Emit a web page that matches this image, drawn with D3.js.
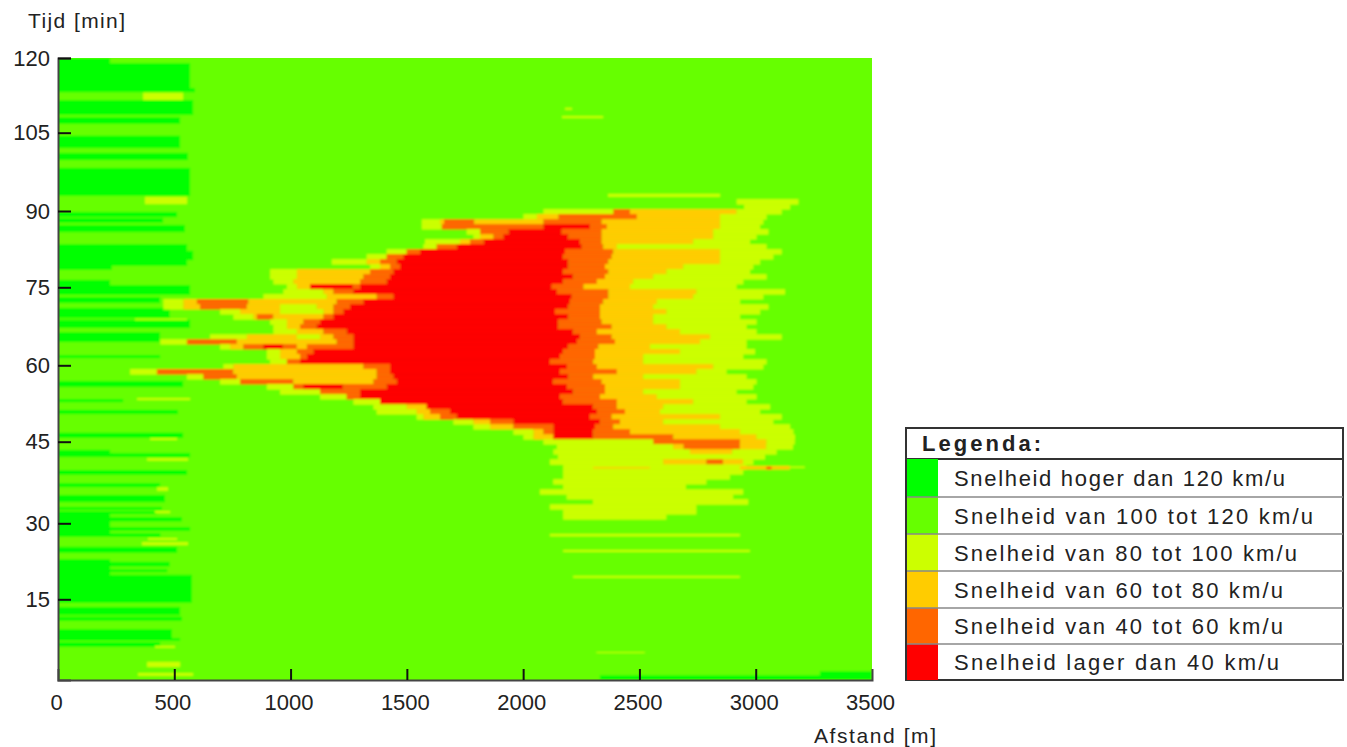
<!DOCTYPE html>
<html><head><meta charset="utf-8">
<script src="https://cdnjs.cloudflare.com/ajax/libs/d3/7.8.5/d3.min.js"></script>
<style>html,body{margin:0;padding:0;background:#fff}svg{display:block}
text{font-family:"Liberation Sans",Arial,sans-serif;fill:#222}</style></head><body>
<svg id="c" width="1347" height="747"></svg>
<script>
const speedColors=["#00ff00","#66ff00","#ccff00","#ffcc00","#ff6600","#ff0000"];
const legendLabels=["Snelheid hoger dan 120 km/u","Snelheid van 100 tot 120 km/u","Snelheid van 80 tot 100 km/u","Snelheid van 60 tot 80 km/u","Snelheid van 40 tot 60 km/u","Snelheid lager dan 40 km/u"];
const xTicks=[0,500,1000,1500,2000,2500,3000,3500];
const yTicks=[15,30,45,60,75,90,105,120];
// fastest class bands near the start of the road: [top min, bottom min, end m]
const fastBands=[[120,119,224],[119,114.2,568],[114.2,113.4,589],[111.9,109,581],[108.6,107.3,525],[105,102.6,525],[101.7,100.3,559],[98.8,93.4,568],[90.3,89.3,512],[89.1,88.2,452],[87.8,86.4,546],[84.1,79.9,555],[82.8,81,581],[79.9,79.1,232],[77.2,76.2,224],[76.2,74.3,568],[73.9,72.7,439],[71.8,69.8,480],[69.5,67.9,568],[67.1,65.2,439],[62.7,62.1,439],[57.7,56.5,538],[54.2,53.6,280],[52.1,51.3,516],[47.7,46.7,538],[44.4,43.8,224],[43.8,43,568],[40.5,39.6,555],[38,37.2,439],[35.7,34.3,460],[33.4,32.8,447],[32.6,32,426],[32,30.3,224],[31.4,30.6,533],[30.3,27.6,224],[29.5,28.8,568],[28.3,27.6,440],[25.7,24.5,512],[23.3,20.3,224],[22.8,21.9,480],[21.4,20.8,470],[20.3,14.9,576],[14.1,12.5,525],[12.2,11.4,533],[9.8,7.7,490],[8.1,7.6,525],[7.3,6.4,439],[0.9,0,3500],[1.7,0,3500]];
const fastBandStarts=fastBands.map(b=>b[2]===3500?(b[0]>1?3276:2330):0);
// time of each congestion row
const rowTimes=[92.3,91.3,90.4,89.4,88.4,87.5,86.5,85.5,84.6,83.6,82.65,81.7,80.7,79.75,78.8,77.8,76.9,75.9,74.9,74,73,72,71.1,70.1,69.1,68.2,67.2,66.2,65.3,64.3,63.4,62.4,61.4,60.5,59.5,58.5,57.6,56.6,55.6,54.7,53.7,52.7,51.8,50.8,49.8,48.9,47.9,46.9,46,45,44.05,43.1,42.1,41.1,40.2,39.2,38.3,37.3,36.3,35.4,34.4,33.4,32.5,31.5];
// per row: start m, class, start m, class, ..., end m (class 2..5 = index into speedColors)
const rowRuns=[
[2918,2,3184],[2950,2,3148],[2087,2,2388,4,2460,3,2918,2,3112],[2001,2,2059,3,2152,4,2489,3,2847,2,3047],
[1564,2,1643,3,1660,4,1790,3,2087,4,2338,3,2847,2,3033],[1564,2,1650,4,2087,5,2288,4,2360,3,2847,2,3019],
[1757,2,1815,4,1937,5,2166,4,2338,3,2818,2,3055],[1786,2,1815,3,1872,4,1915,5,2195,4,2338,3,2818,2,3004],
[1578,2,1729,3,1772,4,1830,5,2245,4,2338,3,2732,2,2976],[1571,2,1628,4,1714,5,2252,4,2345,3,2403,2,3047],
[1413,2,1499,4,1557,5,2180,4,2388,3,2847,2,3112],[1327,2,1413,4,1485,5,2173,4,2381,3,2847,2,3076],
[1177,2,1327,3,1385,4,1456,5,2195,4,2367,3,2847,2,3019],[1342,2,1385,3,1428,4,1471,5,2195,4,2352,3,2689,2,2990],
[912,2,1027,3,1342,4,1442,5,2173,4,2367,3,2617,2,2976],[912,2,1027,3,1313,4,1428,5,2216,4,2352,3,2560,2,3047],
[926,2,1012,3,1299,4,1413,5,2173,4,2317,3,2474,2,2947],[984,2,1027,3,1084,5,1270,4,1299,5,2123,4,2260,3,2460,2,2918],
[969,2,1141,3,1184,4,1270,5,2145,4,2367,3,2746,2,3126],[883,2,1155,3,1370,4,1442,5,2209,4,2367,3,2732,2,3033],
[453,2,539,3,597,4,819,3,1198,4,1313,5,2202,4,2345,3,2575,2,2933],[453,2,539,3,611,4,812,3,955,2,1112,3,1184,4,1256,5,2195,4,2331,3,2560,2,3055],
[697,2,783,3,955,2,1141,3,1184,4,1227,5,2137,4,2331,3,2617,2,3019],[754,2,840,3,855,4,926,3,1141,4,1184,5,2195,4,2331,3,2560,2,2933],
[912,2,984,3,1055,4,1127,5,2152,4,2338,3,2560,2,3004],[926,2,984,3,1041,4,1112,5,2152,4,2381,3,2617,2,2961],
[926,2,1027,3,1141,4,1241,5,2216,4,2317,3,2675,2,3004],[654,2,812,3,1027,2,1127,3,1184,4,1270,5,2245,4,2381,3,2804,2,3112],
[440,2,554,4,769,3,1198,4,1270,5,2231,4,2395,3,2761,2,2961],[697,2,740,3,797,4,883,5,969,4,1027,3,1070,4,1270,5,2195,4,2324,3,2546,2,2961],
[898,2,955,3,1027,4,1098,5,2173,4,2309,3,2675,2,2997],[898,2,955,3,1041,4,1070,5,2159,4,2309,3,2517,2,2947],
[912,2,984,4,1041,5,2116,4,2302,3,2517,2,3047],[711,2,754,3,1313,4,1428,5,2188,4,2317,3,2818,2,3033],
[310,2,425,4,754,3,1370,4,1428,5,2159,4,2403,3,2746,2,2875],[554,2,625,4,769,3,1370,4,1442,5,2195,4,2302,3,2517,2,2961],
[697,2,783,4,1012,3,1356,4,1456,5,2130,4,2338,3,2675,2,3004],[898,2,1012,4,1055,5,1227,4,1413,5,2188,4,2352,3,2675,2,2990],
[955,2,1127,4,1299,5,2216,4,2352,3,2517,2,2918],[1127,2,1241,4,1299,5,2159,4,2331,3,2575,2,3004],
[1270,2,1385,5,2173,4,2403,3,2732,2,2961],[1356,2,1499,3,1585,5,2302,4,2403,3,2603,2,3062],
[1370,2,1542,3,1600,4,1686,5,2317,4,2438,3,2589,2,3019],[1542,2,1571,3,1643,4,1714,5,2288,4,2381,3,2847,2,3112],
[1700,2,1786,3,1858,4,1958,5,2331,4,2417,3,2603,2,3076],[1786,2,1858,3,1958,4,2130,5,2309,4,2388,3,2847,2,3148],
[1958,2,2044,3,2087,4,2130,5,2302,4,2460,3,2933,2,3162],[2001,2,2044,3,2130,5,2302,4,2646,3,3004,2,3169],
[2087,2,2560,4,2933,3,3047,2,3168],[2145,2,2645,3,2690,4,2932,3,3046,2,3160],[2130,2,2717,3,2900,2,3090],[2150,2,3040],
[2115,2,2602,3,2788,4,2860,3,2946,2,2990],[2172,2,2960],[2172,2,2946],[2172,2,2889],[2129,2,2788],[2172,2,2700],
[2072,2,2946],[2187,2,2903],[2300,2,2968],[2115,2,2745],[2172,2,2745],[2172,2,2616]];
// thin streaks: [top min, bottom min, start m, end m, class]
const thinStreaks=[[113.3,111.9,366,538,2],[93.2,91.8,374,555,2],[42.8,42.3,383,559,2],[37.2,36.5,426,473,2],[32.6,32.2,417,482,2],[27.4,27,387,512,2],[26.6,26,361,559,2],[6.6,6.2,417,503,2],[3.5,2.5,383,525,2],[1.35,0.8,344,581,2],[54.4,54,340,568,2],[46.7,46.3,396,512,2],[69.7,69.4,331,555,2],[110.4,110,2180,2210,2],[108.8,108.4,2167,2344,2],[93.8,93.2,2365,2847,2],[28.2,27.7,2115,2932,2],[25.1,24.7,2172,2975,2],[20.1,19.7,2215,2932,2],[5.4,5.2,2315,2523,2],[41.3,40.6,2932,3147,3],[41.2,40.9,3147,3211,2],[41.2,40.6,3046,3068,4],[41.1,40.8,2301,2545,3]];

const svg=d3.select("#c");
const x=d3.scaleLinear().domain([0,3500]).range([58,872]);
const y=d3.scaleLinear().domain([0,120]).range([680,58]);
// the printed ticks sit slightly off an even spacing
const yAxisScale=d3.scaleLinear().domain([0,15,30,45,60,75,90,105,120]).range([680,599.3,523.3,441.7,365.3,287.3,211,132.7,58]);
const defs=svg.append("defs");
defs.append("filter").attr("id","soft").append("feGaussianBlur").attr("stdDeviation",0.8);
defs.append("clipPath").attr("id","plot").append("rect").attr("x",58).attr("y",58).attr("width",814).attr("height",622);
const outer=svg.append("g").attr("clip-path","url(#plot)");
const g=outer.append("g").attr("filter","url(#soft)");
g.append("rect").attr("x",50).attr("y",50).attr("width",830).attr("height",640).attr("fill",speedColors[1]);
g.selectAll("rect.f").data(fastBands).join("rect").attr("class","f")
 .attr("x",(d,i)=>fastBandStarts[i]?x(fastBandStarts[i]):40).attr("y",d=>y(d[0]))
 .attr("width",(d,i)=>x(d[2])-(fastBandStarts[i]?x(fastBandStarts[i]):40)).attr("height",d=>y(d[1])-y(d[0])).attr("fill",speedColors[0]);
const cells=[];
rowRuns.forEach((r,k)=>{
  const t=rowTimes[k];
  const top=k?(rowTimes[k-1]+t)/2:t+0.48;
  const bot=k<rowTimes.length-1?(t+rowTimes[k+1])/2:t-0.48;
  for(let i=0;i+2<r.length;i+=2)cells.push({top,bot,a:r[i],c:r[i+1],b:r[i+2]});
});
g.selectAll("rect.r").data(cells).join("rect").attr("class","r")
 .attr("x",d=>x(d.a)).attr("y",d=>y(d.top)).attr("width",d=>x(d.b)-x(d.a)).attr("height",d=>y(d.bot)-y(d.top)+0.5).attr("fill",d=>speedColors[d.c]);
g.selectAll("rect.s").data(thinStreaks).join("rect").attr("class","s")
 .attr("x",d=>x(d[2])).attr("y",d=>y(d[0])).attr("width",d=>x(d[3])-x(d[2])).attr("height",d=>y(d[1])-y(d[0])).attr("fill",d=>speedColors[d[4]]);

const axX=svg.append("g").attr("transform","translate(0,680)").call(d3.axisBottom(x).tickValues(xTicks).tickSize(-11).tickPadding(14).tickFormat(d3.format("d")));
const axY=svg.append("g").attr("transform","translate(58,0)").call(d3.axisLeft(yAxisScale).tickValues(yTicks).tickSize(-13).tickPadding(8).tickFormat(d3.format("d")));
[axX,axY].forEach(a=>{a.selectAll("text").style("font-size","22px").attr("fill","#222");
  a.selectAll(".tick line").attr("stroke","#111").attr("stroke-width",2);
  a.select(".domain").attr("stroke","#444").attr("stroke-width",2);});
axX.selectAll("text").attr("dx",-2);
axX.selectAll(".tick").filter(d=>d===0||d===3500).select("line").remove();

const label=(sel,t,w)=>sel.attr("textLength",w).attr("lengthAdjust","spacing").text(t);
label(svg.append("text").attr("x",28).attr("y",28).style("font-size","21px"),"Tijd [min]",97);
label(svg.append("text").attr("x",814).attr("y",743).style("font-size","21px"),"Afstand [m]",122);

// legend
const rowEdges=[459,497,534,571,608,644,680];
const legendTextWidths=[331,359,343,329,329,325];
const L=svg.append("g");
L.append("rect").attr("x",906).attr("y",428).attr("width",437).attr("height",252).attr("fill","#fff").attr("stroke","#333").attr("stroke-width",2);
label(L.append("text").attr("x",922).attr("y",451).style("font-size","22px").style("font-weight","bold").attr("fill","#000"),"Legenda:",119);
L.append("line").attr("x1",906).attr("x2",1343).attr("y1",459).attr("y2",459).attr("stroke","#333").attr("stroke-width",2);
legendLabels.forEach((t,i)=>{
  L.append("rect").attr("x",907).attr("y",rowEdges[i]).attr("width",31).attr("height",rowEdges[i+1]-rowEdges[i]).attr("fill",speedColors[i]);
  if(i>0)L.append("line").attr("x1",907).attr("x2",1343).attr("y1",rowEdges[i]).attr("y2",rowEdges[i]).attr("stroke","#888").attr("stroke-width",1.5);
  label(L.append("text").attr("x",954).attr("y",(rowEdges[i]+rowEdges[i+1])/2+8).style("font-size","22px"),t,legendTextWidths[i]);
});
</script></body></html>
